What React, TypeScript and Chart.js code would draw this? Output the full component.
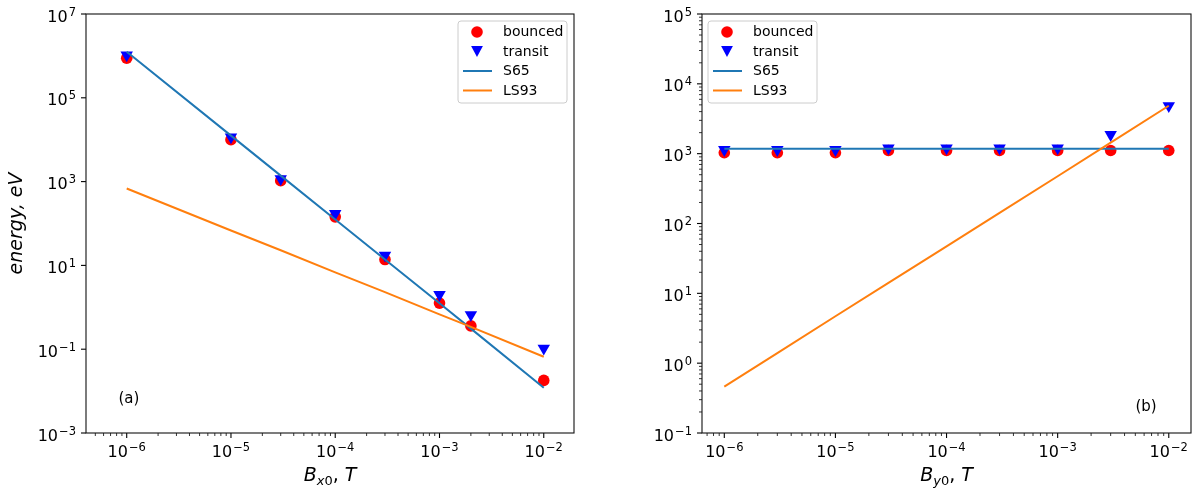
import { useEffect, useRef } from 'react';
import { Chart, registerables } from 'chart.js';

Chart.register(...registerables);

const FONT = '"DejaVu Sans", sans-serif';

// panel (a): scan over B_x0
const bxField = [1e-6, 1e-5, 3e-5, 1e-4, 3e-4, 1e-3, 2e-3, 1e-2];
const bxBounced = [8.8e5, 1.0e4, 1.05e3, 144, 13.8, 1.26, 0.36, 0.018];
const bxTransit = [1.05e6, 1.15e4, 1.17e3, 172, 17.4, 2.0, 0.66, 0.105];
const bxS65 = [1.25e6, 1.25e4, 1.39e3, 125, 13.9, 1.25, 0.31, 0.012];
const bxLS93 = [684, 68, 23, 6.8, 2.3, 0.68, 0.34, 0.066];

// panel (b): scan over B_y0
const byField = [1e-6, 3e-6, 1e-5, 3e-5, 1e-4, 3e-4, 1e-3, 3e-3, 1e-2];
const byBounced = [1030, 1030, 1030, 1110, 1110, 1110, 1110, 1110, 1110];
const byTransit = [1140, 1140, 1140, 1200, 1200, 1200, 1200, 1870, 4850];
const byS65 = [1180, 1180, 1180, 1180, 1180, 1180, 1180, 1180, 1180];
const byLS93 = [0.46, 1.39, 4.7, 14.1, 47, 142, 475, 1440, 4850];

// axis ticks
const xMajor = [1e-6, 1e-5, 1e-4, 1e-3, 1e-2];
const yMajorA = [1e-3, 1e-1, 1e1, 1e3, 1e5, 1e7];
const yMajorB = [1e-1, 1e0, 1e1, 1e2, 1e3, 1e4, 1e5];
const minorSteps = [2, 3, 4, 5, 6, 7, 8, 9];

const legendItems = ['bounced', 'transit', 'S65', 'LS93'];

const BASE_FONT = `16px ${FONT}`;
const EXP_FONT = `11.5px ${FONT}`;

function expText(v: number) {
  const e = Math.round(Math.log10(v));
  return String(e).replace('-', '\u2212');
}

function buildTicks(min: number, max: number, majors: number[], withMinor: boolean) {
  const out: { value: number; major: boolean }[] = [];
  majors.forEach((m) => {
    if (m >= min * 0.999 && m <= max * 1.001) out.push({ value: m, major: true });
  });
  if (withMinor) {
    const e0 = Math.floor(Math.log10(min));
    const e1 = Math.ceil(Math.log10(max));
    for (let e = e0; e <= e1; e++) {
      minorSteps.forEach((s) => {
        const v = parseFloat(`${s}e${e}`);
        if (v >= min && v <= max) out.push({ value: v, major: false });
      });
    }
  }
  return out.sort((a, b) => a.value - b.value);
}

function pts(xs: number[], ys: number[]) {
  return xs.map((x, i) => ({ x, y: ys[i] }));
}

// "10" with a raised exponent, anchored by align at (x, baseline)
function drawPow(ctx: CanvasRenderingContext2D, v: number, x: number, base: number, align: string) {
  const ex = expText(v);
  ctx.font = BASE_FONT;
  const w1 = ctx.measureText('10').width;
  ctx.font = EXP_FONT;
  const w2 = ctx.measureText(ex).width + 1;
  const total = w1 + w2;
  let left = x;
  if (align === 'center') left = x - total / 2;
  if (align === 'right') left = x - total;
  ctx.textAlign = 'left';
  ctx.textBaseline = 'alphabetic';
  ctx.font = BASE_FONT;
  ctx.fillText('10', left, base);
  ctx.font = EXP_FONT;
  ctx.fillText(ex, left + w1 + 1, base - 6);
}

const decorPlugin = {
  id: 'decor',
  afterDraw(chart: any, _args: any, opts: any) {
    const { ctx, chartArea: a, scales } = chart;
    const sx = scales.x;
    const sy = scales.y;
    ctx.save();

    // tick marks and labels
    ctx.strokeStyle = '#000';
    ctx.fillStyle = '#000';
    sx.ticks.forEach((t: any) => {
      const p = sx.getPixelForValue(t.value);
      if (p < a.left - 0.5 || p > a.right + 0.5) return;
      ctx.lineWidth = t.major ? 1.1 : 0.8;
      ctx.beginPath();
      ctx.moveTo(p, a.bottom);
      ctx.lineTo(p, a.bottom + (t.major ? 5 : 3));
      ctx.stroke();
      if (t.major) drawPow(ctx, t.value, p, a.bottom + 24, 'center');
    });
    sy.ticks.forEach((t: any) => {
      const p = sy.getPixelForValue(t.value);
      if (p < a.top - 0.5 || p > a.bottom + 0.5) return;
      ctx.lineWidth = t.major ? 1.1 : 0.8;
      ctx.beginPath();
      ctx.moveTo(a.left, p);
      ctx.lineTo(a.left - (t.major ? 5 : 3), p);
      ctx.stroke();
      if (t.major) drawPow(ctx, t.value, a.left - 10, p + 7.5, 'right');
    });

    // frame
    ctx.lineWidth = 1.1;
    ctx.strokeStyle = '#111';
    ctx.strokeRect(a.left, a.top, a.right - a.left, a.bottom - a.top);

    // legend
    const bw = 109;
    const bh = 82;
    const bx = opts.legendSide === 'right' ? a.right - 7 - bw : a.left + 6;
    const by = a.top + 7;
    ctx.beginPath();
    ctx.roundRect(bx, by, bw, bh, 3);
    ctx.fillStyle = 'rgba(255,255,255,0.8)';
    ctx.fill();
    ctx.strokeStyle = '#cccccc';
    ctx.lineWidth = 1;
    ctx.stroke();
    ctx.font = `14px ${FONT}`;
    ctx.textBaseline = 'middle';
    ctx.textAlign = 'left';
    legendItems.forEach((label, i) => {
      const ry = by + 11 + i * 19.5;
      const mx = bx + 19;
      if (i === 0) {
        ctx.fillStyle = '#ff0000';
        ctx.beginPath();
        ctx.arc(mx, ry, 5.8, 0, Math.PI * 2);
        ctx.fill();
      } else if (i === 1) {
        const h = 5.6;
        ctx.fillStyle = '#0000ff';
        ctx.beginPath();
        ctx.moveTo(mx, ry + h);
        ctx.lineTo(mx - 5.9, ry - h);
        ctx.lineTo(mx + 5.9, ry - h);
        ctx.closePath();
        ctx.fill();
      } else {
        ctx.strokeStyle = i === 2 ? '#1f77b4' : '#ff7f0e';
        ctx.lineWidth = 2;
        ctx.beginPath();
        ctx.moveTo(bx + 5, ry);
        ctx.lineTo(bx + 34, ry);
        ctx.stroke();
      }
      ctx.fillStyle = '#000';
      ctx.fillText(label, bx + 45, ry + 0.5);
    });

    // panel tag
    ctx.font = `15px ${FONT}`;
    ctx.textAlign = 'center';
    ctx.textBaseline = 'middle';
    ctx.fillStyle = '#000';
    ctx.fillText(
      opts.tag,
      a.left + opts.tagPos[0] * (a.right - a.left),
      a.bottom - opts.tagPos[1] * (a.bottom - a.top),
    );

    // x title: B_{sub 0}, T
    const cx = (a.left + a.right) / 2;
    const ty = a.bottom + 48;
    const parts = [
      { t: 'B', f: `italic 19px ${FONT}`, dy: 0 },
      { t: opts.sub, f: `italic 13px ${FONT}`, dy: 4 },
      { t: '0', f: `13px ${FONT}`, dy: 4 },
      { t: ', ', f: `19px ${FONT}`, dy: 0 },
      { t: 'T', f: `italic 19px ${FONT}`, dy: 0 },
    ];
    let total = 0;
    parts.forEach((p) => {
      ctx.font = p.f;
      total += ctx.measureText(p.t).width;
    });
    let px = cx - total / 2;
    ctx.textAlign = 'left';
    ctx.textBaseline = 'alphabetic';
    parts.forEach((p) => {
      ctx.font = p.f;
      ctx.fillText(p.t, px, ty + p.dy);
      px += ctx.measureText(p.t).width;
    });

    // y title
    if (opts.yTitle) {
      ctx.translate(17, (a.top + a.bottom) / 2);
      ctx.rotate(-Math.PI / 2);
      ctx.font = `italic 19px ${FONT}`;
      ctx.textAlign = 'center';
      ctx.textBaseline = 'middle';
      ctx.fillText(opts.yTitle, 0, 0);
    }
    ctx.restore();
  },
};

type PanelProps = {
  xs: number[];
  bounced: number[];
  transit: number[];
  s65: number[];
  ls93: number[];
  xMin: number;
  xMax: number;
  yMin: number;
  yMax: number;
  yMajor: number[];
  yMinor: boolean;
  yWidth: number;
  padRight: number;
  sub: string;
  yTitle: string;
  tag: string;
  tagPos: number[];
  legendSide: string;
};

function Panel(p: PanelProps) {
  const canvasRef = useRef<HTMLCanvasElement>(null);
  const chartRef = useRef<Chart | null>(null);

  useEffect(() => {
    if (!canvasRef.current) return;
    if (chartRef.current) chartRef.current.destroy();

    chartRef.current = new Chart(canvasRef.current, {
      type: 'scatter',
      data: {
        datasets: [
          {
            label: 'bounced',
            data: pts(p.xs, p.bounced),
            pointStyle: 'circle',
            pointRadius: 5.8,
            backgroundColor: '#ff0000',
            borderWidth: 0,
            order: 4,
          },
          {
            label: 'transit',
            data: pts(p.xs, p.transit),
            pointStyle: 'triangle',
            rotation: 180,
            pointRadius: 7.2,
            backgroundColor: '#0000ff',
            borderWidth: 0,
            order: 3,
          },
          {
            label: 'S65',
            data: pts(p.xs, p.s65),
            showLine: true,
            pointRadius: 0,
            borderColor: '#1f77b4',
            borderWidth: 2,
            order: 2,
          },
          {
            label: 'LS93',
            data: pts(p.xs, p.ls93),
            showLine: true,
            pointRadius: 0,
            borderColor: '#ff7f0e',
            borderWidth: 2,
            order: 1,
          },
        ],
      } as any,
      options: {
        responsive: true,
        maintainAspectRatio: false,
        animation: false,
        layout: { padding: { left: 0, top: 14, right: p.padRight, bottom: 0 } },
        plugins: {
          legend: { display: false },
          tooltip: { enabled: false },
          decor: {
            sub: p.sub,
            yTitle: p.yTitle,
            tag: p.tag,
            tagPos: p.tagPos,
            legendSide: p.legendSide,
          },
        } as any,
        scales: {
          x: {
            type: 'logarithmic',
            min: p.xMin,
            max: p.xMax,
            grid: { display: false },
            border: { display: false },
            afterBuildTicks: (s: any) => {
              s.ticks = buildTicks(s.min, s.max, xMajor, true);
            },
            afterFit: (s: any) => {
              s.height = 59;
            },
            ticks: { display: false, autoSkip: false, maxRotation: 0 },
          },
          y: {
            type: 'logarithmic',
            min: p.yMin,
            max: p.yMax,
            grid: { display: false },
            border: { display: false },
            afterBuildTicks: (s: any) => {
              s.ticks = buildTicks(s.min, s.max, p.yMajor, p.yMinor);
            },
            afterFit: (s: any) => {
              s.width = p.yWidth;
            },
            ticks: { display: false, autoSkip: false },
          },
        },
      } as any,
      plugins: [decorPlugin],
    });

    return () => {
      if (chartRef.current) {
        chartRef.current.destroy();
        chartRef.current = null;
      }
    };
  }, []);

  return (
    <div style={{ position: 'relative', width: 600, height: 492 }}>
      <canvas ref={canvasRef}></canvas>
    </div>
  );
}

export default function App() {
  return (
    <div
      style={{
        position: 'fixed',
        left: 0,
        top: 0,
        width: 1200,
        height: 492,
        background: '#fff',
        display: 'flex',
      }}
    >
      <Panel
        xs={bxField}
        bounced={bxBounced}
        transit={bxTransit}
        s65={bxS65}
        ls93={bxLS93}
        xMin={4.07e-7}
        xMax={1.95e-2}
        yMin={1e-3}
        yMax={1e7}
        yMajor={yMajorA}
        yMinor={false}
        yWidth={86}
        padRight={26}
        sub="x"
        yTitle="energy, eV"
        tag="(a)"
        tagPos={[0.088, 0.081]}
        legendSide="right"
      />
      <Panel
        xs={byField}
        bounced={byBounced}
        transit={byTransit}
        s65={byS65}
        ls93={byLS93}
        xMin={6.3e-7}
        xMax={1.585e-2}
        yMin={1e-1}
        yMax={1e5}
        yMajor={yMajorB}
        yMinor={true}
        yWidth={102}
        padRight={9}
        sub="y"
        yTitle=""
        tag="(b)"
        tagPos={[0.908, 0.062]}
        legendSide="left"
      />
    </div>
  );
}
